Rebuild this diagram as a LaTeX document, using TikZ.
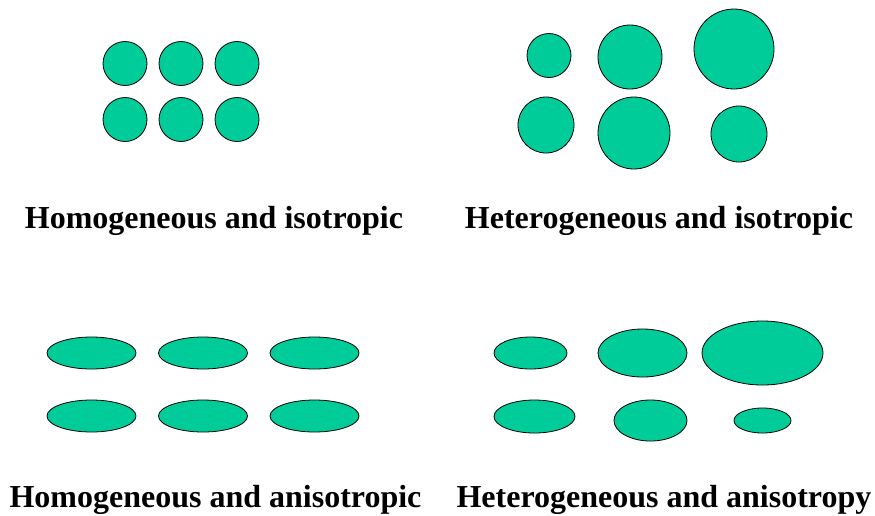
\documentclass[tikz,border=0pt]{standalone}
\usepackage{fontspec}
\setmainfont{Liberation Serif}
\definecolor{grain}{HTML}{00CC99}

\begin{document}
\begin{tikzpicture}[
    x=1pt, y=-1pt,
    grain/.style={fill=grain, draw=black, line width=0.8pt}, % Style for grains
    caption/.style={anchor=base, font=\bfseries\fontsize{32}{34}\selectfont, inner sep=0pt} % Style for labels
]

% Frame of the picture
\useasboundingbox (0, 0) rectangle (875, 515);

% Homogeneous and isotropic: equal circles
\foreach \x in {125, 181, 237}
    \foreach \y in {63.5, 119.5}
        \draw[grain] (\x, \y) circle (22);

% Heterogeneous and isotropic: circles of different size
\draw[grain] (549, 55.5) circle (22);
\draw[grain] (630, 57) circle (32);
\draw[grain] (734, 49) circle (40);
\draw[grain] (546, 125) circle (28);
\draw[grain] (634, 133) circle (36);
\draw[grain] (739, 134) circle (28);

% Homogeneous and anisotropic: equal ellipses
\foreach \x in {91.5, 203, 314.5}
    \foreach \y in {353, 416}
        \draw[grain] (\x, \y) ellipse (44.5 and 16);

% Heterogeneous and anisotropy: ellipses of different size
\draw[grain] (530.5, 353) ellipse (36.5 and 16);
\draw[grain] (642.5, 353) ellipse (44.5 and 24);
\draw[grain] (762.5, 353) ellipse (60.5 and 32);
\draw[grain] (534.5, 416.5) ellipse (40.5 and 16.5);
\draw[grain] (650.5, 420.5) ellipse (36.5 and 20.5);
\draw[grain] (762.5, 420.5) ellipse (28.5 and 12.5);

% Labels
\node[caption] (homiso) at (214, 228) {Homogeneous and isotropic};
\node[caption] (hetiso) at (659, 228) {Heterogeneous and isotropic};
\node[caption] (homani) at (215.5, 507) {Homogeneous and anisotropic};
\node[caption] (hetani) at (664, 507) {Heterogeneous and anisotropy};

\end{tikzpicture}
\end{document}
